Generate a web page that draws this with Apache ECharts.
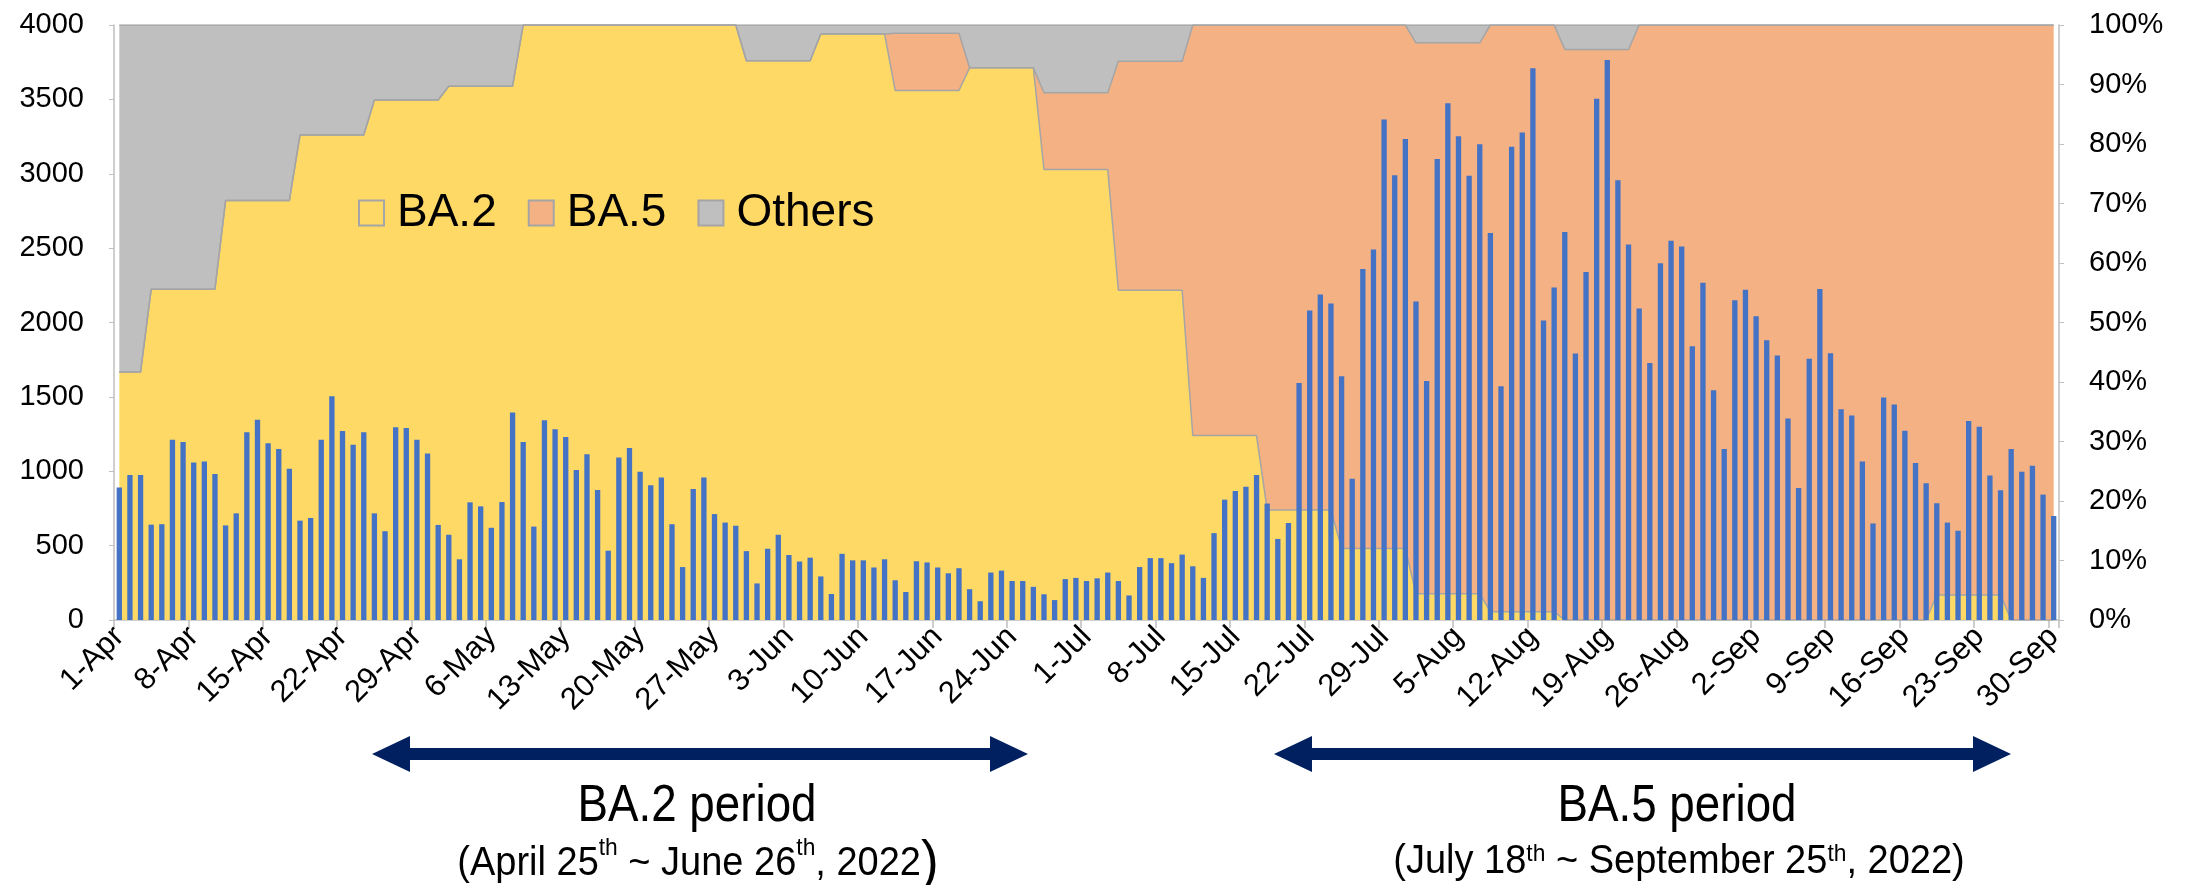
<!DOCTYPE html>
<html><head><meta charset="utf-8">
<script src="https://cdn.jsdelivr.net/npm/echarts@6/dist/echarts.min.js"></script>
<style>html,body{margin:0;padding:0;background:#fff}#c{width:2200px;height:885px}</style>
</head><body><div id="c"></div>
<script>
// ---- categories: daily, 1-Apr .. 30-Sep 2022 ----
const monthNames = ['Jan','Feb','Mar','Apr','May','Jun','Jul','Aug','Sep','Oct','Nov','Dec'];
const dayCount = 183;
const categories = [];
for (let i = 0; i < dayCount; i++) {
  const d = new Date(Date.UTC(2022, 3, 1 + i));
  categories.push(d.getUTCDate() + '-' + monthNames[d.getUTCMonth()]);
}

// ---- daily cases (left axis) ----
const casesApr = [890,974,974,641,644,1212,1196,1058,1066,982,636,717,1262,1346,1189,1149,1016,668,686,1212,1505,1270,1178,1262,717,597,1296,1291,1212,1120];
const casesMay = [639,573,408,791,764,620,793,1395,1196,628,1343,1283,1230,1008,1115,874,466,1092,1157,997,906,958,644,356,880,958,712,655,634,463,246];
const casesJun = [479,573,437,393,419,293,175,445,401,401,353,408,267,188,395,387,353,314,348,207,126,319,332,262,262,223,173,134,275,283];
const casesJul = [262,280,319,262,165,356,416,416,382,440,361,283,584,809,867,895,974,783,545,652,1594,2081,2189,2128,1639,950,2359,2490,3364,2990,3233];
const casesAug = [2142,1607,3100,3474,3252,2987,3199,2602,1571,3181,3278,3710,2013,2236,2608,1791,2340,3505,3765,2956,2524,2094,1728,2398,2550,2511,1840,2267,1545,1149,2149];
const casesSep = [2220,2042,1880,1778,1354,887,1757,2225,1793,1416,1374,1066,649,1495,1448,1272,1055,919,785,655,600,1338,1299,971,872,1149,997,1037,843,699];
const dailyCases = [].concat(casesApr, casesMay, casesJun, casesJul, casesAug, casesSep);

// ---- weekly variant shares (right axis, %), each block = number of days ----
const blockDays    = [3, 7,7,7,7,7,7,7,7,7,7,7,7,7,7,7,7,7,7,7,7,7,7,7,7,7, 5];
const shareBA2     = [41.7,55.6,70.5,81.5,87.4,89.7,100,100,100,94.0,98.5,89.0,92.8,75.7,55.4,31.0,18.5,12.0,4.4,1.4,0,0,0,0,0,4.2,0];
const shareBA5     = [0,0,0,0,0,0,0,0,0,0,0,9.6,0,12.9,38.5,69.0,81.5,88.0,92.6,98.6,95.9,100,100,100,100,95.8,100];
const shareOthers  = [58.3,44.4,29.5,18.5,12.6,10.3,0,0,0,6.0,1.5,1.4,7.2,11.4,6.1,0,0,0,3.0,0,4.1,0,0,0,0,0,0];

const leftTicks = { min: 0, max: 4000, interval: 500 };
const rightTicks = { min: 0, max: 100, interval: 10 };

function byDay(blockValues) {
  const out = [];
  blockValues.forEach((v, i) => { for (let k = 0; k < blockDays[i]; k++) out.push(v); });
  return out;
}

const BASE = "'Liberation Sans', Arial, Helvetica, sans-serif";

const COL_BA2 = '#FFD966', COL_BA5 = '#F4B183', COL_OTH = '#BFBFBF', COL_BAR = '#4472C4';
const EDGE = '#A5A5A5';
const NAVY = '#002060';

function arrow(x1, x2, y) {
  const L = 38, H = 18, t = 6;
  return [[x1, y], [x1 + L, y - H], [x1 + L, y - t], [x2 - L, y - t], [x2 - L, y - H], [x2, y],
          [x2 - L, y + H], [x2 - L, y + t], [x1 + L, y + t], [x1 + L, y + H]];
}

const chart = echarts.init(document.getElementById('c'), null, { renderer: 'canvas' });

function areaSeries(name, data, color) {
  return {
    name, type: 'line', yAxisIndex: 1, stack: 'share', data,
    symbol: 'none', showSymbol: false, smooth: false,
    lineStyle: { color: EDGE, width: 1.5 },
    itemStyle: { color },
    areaStyle: { color, opacity: 1 },
    z: 1, silent: true, animation: false
  };
}

chart.setOption({
  animation: false,
  backgroundColor: '#ffffff',
  textStyle: { fontFamily: BASE },
  grid: { left: 114, right: 141, top: 25, bottom: 265, containLabel: false },
  legend: {
    left: 358, top: 190, padding: 0,
    icon: 'rect', itemWidth: 25, itemHeight: 25, itemGap: 31,
    selectedMode: false,
    data: [
      { name: 'BA.2', itemStyle: { color: COL_BA2, borderColor: EDGE, borderWidth: 2 } },
      { name: 'BA.5', itemStyle: { color: COL_BA5, borderColor: EDGE, borderWidth: 2 } },
      { name: 'Others', itemStyle: { color: COL_OTH, borderColor: EDGE, borderWidth: 2 } }
    ],
    textStyle: { fontSize: 46, color: '#000', fontFamily: BASE, padding: [0, 0, 0, 8] }
  },
  xAxis: {
    type: 'category', data: categories, boundaryGap: true,
    axisLine: { lineStyle: { color: '#BFBFBF', width: 1.5 } },
    axisTick: { show: true, interval: 6, length: 8, lineStyle: { color: '#BFBFBF', width: 1.5 } },
    axisLabel: { interval: 6, rotate: 45, fontSize: 31, color: '#000', margin: 12, fontFamily: BASE },
    splitLine: { show: false }
  },
  yAxis: [
    {
      type: 'value', min: leftTicks.min, max: leftTicks.max, interval: leftTicks.interval, position: 'left',
      axisLine: { show: true, lineStyle: { color: '#BFBFBF', width: 1.5 } },
      axisTick: { show: true, length: 5, lineStyle: { color: '#BFBFBF' } },
      axisLabel: { fontSize: 29, color: '#000', margin: 30, fontFamily: BASE, formatter: v => String(v) },
      splitLine: { show: false }
    },
    {
      type: 'value', min: rightTicks.min, max: rightTicks.max, interval: rightTicks.interval, position: 'right',
      axisLine: { show: true, lineStyle: { color: '#BFBFBF', width: 1.5 } },
      axisTick: { show: true, length: 5, lineStyle: { color: '#BFBFBF' } },
      axisLabel: { fontSize: 29, color: '#000', margin: 30, formatter: '{value}%', fontFamily: BASE },
      splitLine: { show: false }
    }
  ],
  series: [
    areaSeries('BA.2', byDay(shareBA2), COL_BA2),
    areaSeries('BA.5', byDay(shareBA5), COL_BA5),
    areaSeries('Others', byDay(shareOthers), COL_OTH),
    {
      name: 'Cases', type: 'bar', yAxisIndex: 0, data: dailyCases,
      barWidth: '50%', itemStyle: { color: COL_BAR }, z: 3, silent: true, animation: false
    }
  ],
  graphic: [
    { type: 'polygon', shape: { points: arrow(372, 1028, 754) }, style: { fill: NAVY }, z: 10 },
    { type: 'polygon', shape: { points: arrow(1274, 2011, 754) }, style: { fill: NAVY }, z: 10 },
    { type: 'text', x: 697, y: 807, scaleX: 0.88, z: 10,
      style: { text: 'BA.2 period', font: '52px ' + BASE, fill: '#000', align: 'center', verticalAlign: 'middle' } },
    { type: 'text', x: 1677, y: 807, scaleX: 0.88, z: 10,
      style: { text: 'BA.5 period', font: '52px ' + BASE, fill: '#000', align: 'center', verticalAlign: 'middle' } },
    { type: 'text', x: 698, y: 864, scaleX: 0.95, z: 10,
      style: { text: '(April 25{sup|th} ~ June 26{sup|th}, 2022{big|)}', fill: '#000', align: 'center', verticalAlign: 'middle',
        fontSize: 40, fontFamily: BASE,
        rich: { sup: { fontSize: 24, verticalAlign: 'top', fontFamily: BASE }, big: { fontSize: 56, fontFamily: BASE } } } },
    { type: 'text', x: 1679, y: 862, scaleX: 0.95, z: 10,
      style: { text: '(July 18{sup|th} ~ September 25{sup|th}, 2022)', fill: '#000', align: 'center', verticalAlign: 'middle',
        fontSize: 40, fontFamily: BASE,
        rich: { sup: { fontSize: 24, verticalAlign: 'top', fontFamily: BASE } } } }
  ]
});
</script>
</body></html>
